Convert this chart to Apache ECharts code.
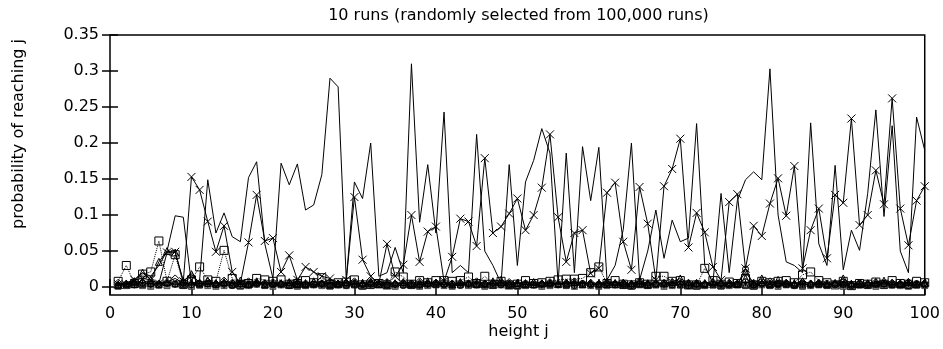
<!DOCTYPE html>
<html><head><meta charset="utf-8">
<script src="https://cdn.jsdelivr.net/npm/echarts@6/dist/echarts.min.js"></script>
<style>html,body{margin:0;padding:0;background:#fff}#c{width:943px;height:349px}</style>
</head><body><div id="c"></div>
<script>
const titleText = '10 runs (randomly selected from 100,000 runs)';
const xName = 'height j';
const yName = 'probability of reaching j';
const xTicks = [0,10,20,30,40,50,60,70,80,90,100];
const yTicks = [0,0.05,0.1,0.15,0.2,0.25,0.3,0.35];
const heights = Array.from({length:100},(_,i)=>i+1);

const runA = [0.004,0.006,0.01,0.02,0.015,0.03,0.05,0.099,0.097,0.004,0.01,0.149,0.075,0.103,0.07,0.063,0.152,0.174,0.06,0.012,
0.172,0.142,0.171,0.107,0.114,0.156,0.29,0.278,0.01,0.146,0.123,0.2,0.015,0.02,0.055,0.02,0.31,0.09,0.17,0.075,
0.243,0.02,0.03,0.02,0.212,0.05,0.03,0.005,0.17,0.03,0.146,0.176,0.22,0.186,0.005,0.186,0.02,0.195,0.12,0.194,
0.01,0.03,0.08,0.2,0.01,0.05,0.107,0.04,0.093,0.063,0.068,0.227,0.03,0.005,0.13,0.02,0.12,0.149,0.16,0.149,
0.303,0.1,0.035,0.03,0.02,0.228,0.06,0.03,0.169,0.024,0.079,0.051,0.13,0.246,0.098,0.224,0.05,0.02,0.236,0.19];

const runB = [0.004,0.003,0.01,0.012,0.01,0.005,0.048,0.049,0.008,0.153,0.135,0.091,0.049,0.085,0.021,0.005,0.062,0.128,0.064,0.068,
0.021,0.044,0.01,0.028,0.021,0.015,0.012,0.005,0.01,0.125,0.038,0.015,0.005,0.06,0.015,0.031,0.1,0.035,0.077,0.084,
0.008,0.042,0.095,0.091,0.057,0.179,0.075,0.084,0.102,0.123,0.079,0.1,0.138,0.212,0.097,0.035,0.075,0.079,0.019,0.026,
0.131,0.145,0.063,0.024,0.139,0.088,0.01,0.14,0.164,0.206,0.055,0.103,0.076,0.028,0.01,0.118,0.129,0.026,0.085,0.071,
0.116,0.151,0.099,0.168,0.026,0.079,0.109,0.04,0.128,0.117,0.234,0.086,0.1,0.162,0.115,0.262,0.109,0.058,0.12,0.14];

const runS = [0.008,0.03,0.005,0.018,0.021,0.064,0.008,0.045,0.004,0.01,0.028,0.01,0.008,0.051,0.012,0.004,0.005,0.012,0.01,0.008,
0.01,0.004,0.005,0.009,0.006,0.013,0.004,0.006,0.007,0.01,0.003,0.004,0.005,0.003,0.021,0.014,0.004,0.009,0.006,0.009,
0.009,0.008,0.009,0.014,0.005,0.015,0.004,0.008,0.003,0.004,0.009,0.005,0.006,0.008,0.01,0.011,0.011,0.012,0.02,0.028,
0.005,0.009,0.004,0.003,0.006,0.004,0.015,0.015,0.008,0.009,0.003,0.003,0.026,0.009,0.004,0.007,0.005,0.012,0.003,0.008,
0.006,0.008,0.009,0.006,0.017,0.021,0.009,0.006,0.003,0.008,0.002,0.005,0.004,0.007,0.004,0.009,0.005,0.004,0.008,0.006];

const runD = [0.006,0.004,0.008,0.006,0.009,0.005,0.007,0.012,0.005,0.015,0.006,0.008,0.005,0.009,0.006,0.004,0.008,0.006,0.005,0.007,
0.004,0.006,0.008,0.005,0.006,0.004,0.007,0.005,0.006,0.008,0.004,0.006,0.005,0.007,0.004,0.006,0.005,0.008,0.004,0.006,
0.007,0.005,0.006,0.004,0.008,0.005,0.006,0.004,0.007,0.005,0.004,0.006,0.005,0.007,0.004,0.006,0.008,0.005,0.006,0.004,
0.007,0.005,0.006,0.004,0.008,0.005,0.004,0.006,0.007,0.005,0.006,0.004,0.005,0.007,0.004,0.006,0.005,0.02,0.006,0.004,
0.008,0.005,0.006,0.004,0.007,0.005,0.006,0.004,0.005,0.007,0.004,0.006,0.005,0.007,0.004,0.006,0.005,0.007,0.004,0.006];

const runT = [0.003,0.005,0.008,0.02,0.01,0.035,0.05,0.048,0.008,0.018,0.006,0.009,0.005,0.007,0.005,0.009,0.006,0.008,0.004,0.006,
0.005,0.007,0.006,0.004,0.008,0.005,0.006,0.004,0.007,0.005,0.006,0.008,0.004,0.006,0.005,0.007,0.004,0.006,0.008,0.005,
0.006,0.004,0.007,0.005,0.006,0.004,0.008,0.01,0.005,0.006,0.004,0.007,0.005,0.006,0.004,0.005,0.007,0.004,0.006,0.005,
0.007,0.004,0.006,0.005,0.008,0.004,0.006,0.005,0.007,0.012,0.005,0.006,0.004,0.007,0.005,0.006,0.004,0.012,0.005,0.012,
0.004,0.01,0.006,0.004,0.008,0.005,0.006,0.004,0.005,0.012,0.004,0.006,0.005,0.007,0.009,0.006,0.005,0.007,0.004,0.006];

const runC = [0.002,0.004,0.003,0.005,0.004,0.003,0.005,0.004,0.006,0.003,0.004,0.005,0.003,0.004,0.002,0.005,0.003,0.004,0.005,0.003,
0.004,0.002,0.005,0.003,0.004,0.005,0.003,0.004,0.002,0.005,0.003,0.004,0.005,0.003,0.004,0.002,0.005,0.003,0.004,0.005,
0.003,0.004,0.002,0.005,0.003,0.004,0.005,0.003,0.004,0.002,0.005,0.003,0.004,0.005,0.003,0.004,0.002,0.005,0.003,0.004,
0.005,0.003,0.004,0.002,0.005,0.003,0.004,0.005,0.003,0.004,0.002,0.005,0.003,0.004,0.005,0.003,0.004,0.025,0.003,0.004,
0.005,0.003,0.004,0.002,0.005,0.003,0.004,0.005,0.003,0.004,0.002,0.005,0.003,0.004,0.005,0.003,0.004,0.002,0.005,0.003];

const runF = [0.001,0.002,0.003,0.002,0.001,0.003,0.002,0.004,0.002,0.001,0.003,0.002,0.001,0.002,0.003,0.001,0.002,0.004,0.002,0.001,
0.003,0.002,0.001,0.002,0.003,0.002,0.001,0.003,0.002,0.004,0.001,0.002,0.003,0.002,0.001,0.003,0.002,0.001,0.002,0.003,
0.002,0.001,0.003,0.002,0.004,0.001,0.002,0.003,0.002,0.001,0.002,0.003,0.001,0.002,0.004,0.002,0.001,0.003,0.002,0.001,
0.002,0.003,0.002,0.001,0.003,0.002,0.004,0.001,0.002,0.003,0.002,0.001,0.002,0.003,0.001,0.002,0.003,0.002,0.001,0.003,
0.002,0.001,0.003,0.002,0.001,0.002,0.003,0.002,0.004,0.001,0.002,0.003,0.002,0.001,0.002,0.003,0.002,0.001,0.003,0.002];

const runP = [0.003,0.005,0.004,0.006,0.003,0.005,0.007,0.004,0.006,0.003,0.005,0.004,0.006,0.003,0.005,0.004,0.003,0.005,0.006,0.004,
0.003,0.005,0.004,0.006,0.003,0.004,0.005,0.003,0.006,0.004,0.005,0.003,0.004,0.006,0.003,0.005,0.004,0.003,0.005,0.006,
0.004,0.003,0.005,0.004,0.006,0.003,0.005,0.004,0.003,0.005,0.006,0.004,0.003,0.005,0.004,0.006,0.003,0.005,0.004,0.003,
0.005,0.006,0.004,0.003,0.005,0.004,0.006,0.003,0.005,0.004,0.003,0.005,0.006,0.004,0.003,0.005,0.004,0.006,0.003,0.005,
0.004,0.003,0.005,0.006,0.004,0.003,0.005,0.004,0.006,0.003,0.005,0.004,0.003,0.005,0.006,0.004,0.003,0.005,0.004,0.006];

const runV = [0.004,0.003,0.006,0.004,0.005,0.003,0.006,0.005,0.004,0.007,0.003,0.005,0.004,0.006,0.003,0.005,0.004,0.006,0.003,0.005,
0.006,0.004,0.003,0.005,0.004,0.006,0.003,0.005,0.004,0.003,0.006,0.005,0.004,0.003,0.006,0.004,0.005,0.003,0.006,0.004,
0.005,0.003,0.004,0.006,0.003,0.005,0.004,0.006,0.003,0.005,0.004,0.003,0.006,0.004,0.005,0.003,0.006,0.004,0.005,0.003,
0.004,0.006,0.003,0.005,0.004,0.006,0.003,0.005,0.004,0.003,0.006,0.004,0.005,0.003,0.006,0.004,0.005,0.003,0.004,0.006,
0.003,0.005,0.004,0.006,0.003,0.005,0.004,0.003,0.006,0.004,0.005,0.003,0.006,0.004,0.005,0.003,0.004,0.006,0.003,0.005];

const FONT = 'DejaVu Sans';
const pts = arr => heights.map((h,i)=>[h, arr[i]]);
const hollow = {color:'rgba(0,0,0,0)', borderColor:'#000', borderWidth:1};
function mk(arr, symbol, size, item, lineType, z){
  return {type:'line', data:pts(arr), symbol:symbol, symbolSize:size, showAllSymbol:true,
    lineStyle:{color:'#000', width:1, type:lineType||'solid'}, itemStyle:item||hollow,
    emphasis:{disabled:true}, z:z||2, animation:false, silent:true};
}
const series = [
  mk(runF,'rect',6,{color:'#808080', borderColor:'#333', borderWidth:0.8},'solid',2),
  mk(runC,'circle',6,hollow,'solid',2),
  mk(runV,'path://M0,10L5,0L10,10Z',6,hollow,'solid',2),
  mk(runP,'path://M5,0L5,10M0,5L10,5',7,hollow,'solid',2),
  mk(runD,'diamond',7,hollow,'solid',2),
  mk(runT,'triangle',7,hollow,'solid',2),
  mk(runS,'rect',8,hollow,'dotted',3),
  mk(runB,'path://M0,0L10,10M10,0L0,10',8,hollow,'solid',4),
  mk(runA,'none',1,hollow,'solid',5)
];

const tickStyle = {inside:true, length:8, lineStyle:{color:'#000', width:1.5}};
const chart = echarts.init(document.getElementById('c'), null, {renderer:'canvas'});
chart.setOption({
  animation:false,
  backgroundColor:'#fff',
  grid:{left:110, right:16, top:35, bottom:54, show:true, borderColor:'#000', borderWidth:1.5, backgroundColor:'rgba(0,0,0,0)'},
  xAxis:[
    {type:'value', min:0, max:100, interval:10, axisLine:{show:false}, splitLine:{show:false},
     axisTick:tickStyle, axisLabel:{color:'#000', fontSize:16, fontFamily:FONT, margin:11}},
    {type:'value', position:'top', min:0, max:100, interval:10, axisLine:{show:false}, splitLine:{show:false},
     axisTick:tickStyle, axisLabel:{show:false}}
  ],
  yAxis:[
    {type:'value', min:-0.011, max:0.35, axisLine:{show:false}, splitLine:{show:false},
     axisTick:Object.assign({customValues:yTicks}, tickStyle),
     axisLabel:{customValues:yTicks, color:'#000', fontSize:16, fontFamily:FONT, margin:11, showMinLabel:true, showMaxLabel:true}},
    {type:'value', position:'right', min:-0.011, max:0.35, axisLine:{show:false}, splitLine:{show:false},
     axisTick:Object.assign({customValues:yTicks}, tickStyle), axisLabel:{show:false}}
  ],
  series:series,
  graphic:[
    {type:'text', x:518.5, y:16, style:{text:titleText, font:'16px "DejaVu Sans"', fill:'#000', textAlign:'center', textVerticalAlign:'middle'}},
    {type:'text', x:518.5, y:332, style:{text:xName, font:'16px "DejaVu Sans"', fill:'#000', textAlign:'center', textVerticalAlign:'middle'}},
    {type:'text', x:18.5, y:134, rotation:Math.PI/2, style:{text:yName, font:'16px "DejaVu Sans"', fill:'#000', textAlign:'center', textVerticalAlign:'middle'}}
  ]
});
</script>
</body></html>
